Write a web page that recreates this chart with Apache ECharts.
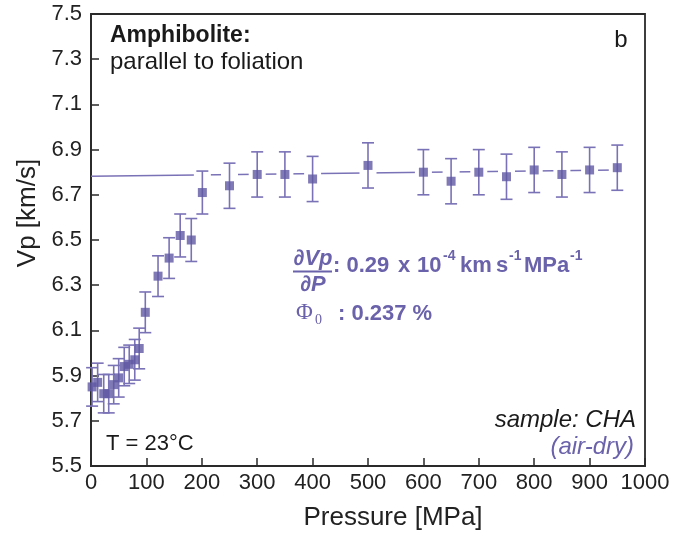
<!DOCTYPE html>
<html>
<head>
<meta charset="utf-8">
<script src="https://cdn.jsdelivr.net/npm/echarts@6/dist/echarts.min.js"></script>
<style>
  html, body { margin: 0; padding: 0; background: #fff; }
  #chart { width: 688px; height: 536px; }
</style>
</head>
<body>
<div id="chart"></div>
<script>
// ---- data ----
const pressure = [2, 12, 23, 32, 41, 50, 60, 69, 79, 87, 98, 121, 141, 161, 181, 201, 250, 300, 350, 400, 500, 600, 650, 700, 750, 800, 850, 900, 950];
const vp       = [5.85, 5.87, 5.82, 5.82, 5.86, 5.89, 5.94, 5.95, 5.97, 6.02, 6.18, 6.34, 6.42, 6.52, 6.50, 6.71, 6.74, 6.79, 6.79, 6.77, 6.83, 6.80, 6.76, 6.80, 6.78, 6.81, 6.79, 6.81, 6.82];
const vpErr    = [0.085, 0.085, 0.085, 0.085, 0.085, 0.085, 0.085, 0.085, 0.09, 0.09, 0.09, 0.09, 0.09, 0.095, 0.095, 0.095, 0.1, 0.1, 0.1, 0.1, 0.1, 0.1, 0.1, 0.1, 0.1, 0.1, 0.1, 0.1, 0.1];
const fitP     = [0, 950];
const fitVp    = [6.782, 6.810];
const xTicks   = [0, 100, 200, 300, 400, 500, 600, 700, 800, 900, 1000];
const yTicks   = [5.5, 5.7, 5.9, 6.1, 6.3, 6.5, 6.7, 6.9, 7.1, 7.3, 7.5];

const PURPLE = '#5f57a3';
const BAR = '#7a72b6';
const TEXTP = '#6a62aa';
const AXIS = '#2a2a2a';
const FONT = '"Liberation Sans", Arial, sans-serif';

const points = pressure.map((p, i) => [p, vp[i], vpErr[i]]);
const fitData = fitP.map((p, i) => [p, fitVp[i]]);

function fitAt(p) {
  return fitVp[0] + (fitVp[1] - fitVp[0]) * (p - fitP[0]) / (fitP[1] - fitP[0]);
}

const chart = echarts.init(document.getElementById('chart'), null, { renderer: 'canvas' });

const option = {
  animation: false,
  backgroundColor: '#fff',
  grid: { left: 91, right: 43, top: 14, bottom: 70, show: true, borderColor: AXIS, borderWidth: 1.8, backgroundColor: 'transparent' },
  xAxis: {
    type: 'value', min: 0, max: 1000, interval: 100,
    axisLine: { show: true, lineStyle: { color: AXIS, width: 1.8 } },
    axisTick: { show: true, inside: true, length: 8, lineStyle: { color: AXIS, width: 1.5 }, customValues: xTicks },
    axisLabel: { fontSize: 22, color: '#222', fontFamily: FONT, margin: 6, customValues: xTicks, formatter: v => String(Math.round(v)) },
    splitLine: { show: false }
  },
  yAxis: {
    type: 'value', min: 5.5, max: 7.5,
    axisLine: { show: true, lineStyle: { color: AXIS, width: 1.8 } },
    axisTick: { show: true, inside: true, length: 8, lineStyle: { color: AXIS, width: 1.5 }, customValues: yTicks },
    axisLabel: { fontSize: 22, color: '#222', fontFamily: FONT, margin: 9, customValues: yTicks, formatter: v => (+v).toFixed(1) },
    splitLine: { show: false }
  },
  series: [
    {
      type: 'line', data: fitData, symbol: 'none', z: 1,
      lineStyle: { color: BAR, width: 1.6 }
    },
    {
      // white halo to break the fit line around each error bar
      type: 'custom', data: points, z: 2,
      renderItem: function (params, api) {
        const x = api.value(0), y = api.value(1), e = api.value(2);
        const f = fitAt(x);
        if (f > y + e + 0.03 || f < y - e - 0.03) return null;
        const c = api.coord([x, y]);
        const hi = api.coord([x, y + e]);
        const lo = api.coord([x, y - e]);
        return { type: 'rect', shape: { x: c[0] - 8.5, y: hi[1] - 2, width: 17, height: lo[1] - hi[1] + 4 }, style: { fill: '#fff' } };
      }
    },
    {
      type: 'custom', data: points, z: 3,
      renderItem: function (params, api) {
        const x = api.value(0), y = api.value(1), e = api.value(2);
        const c = api.coord([x, y]);
        const hi = api.coord([x, y + e]);
        const lo = api.coord([x, y - e]);
        const hw = 6;
        const st = { stroke: BAR, lineWidth: 1.6 };
        return {
          type: 'group', children: [
            { type: 'line', shape: { x1: c[0], y1: hi[1], x2: c[0], y2: lo[1] }, style: st },
            { type: 'line', shape: { x1: c[0] - hw, y1: hi[1], x2: c[0] + hw, y2: hi[1] }, style: st },
            { type: 'line', shape: { x1: c[0] - hw, y1: lo[1], x2: c[0] + hw, y2: lo[1] }, style: st }
          ]
        };
      }
    },
    {
      type: 'scatter', data: points.map(p => [p[0], p[1]]), z: 4,
      symbol: 'rect', symbolSize: 9,
      itemStyle: { color: PURPLE }
    }
  ],
  graphic: [
    { type: 'text', x: 28, y: 213, rotation: Math.PI / 2,
      style: { text: 'Vp [km/s]', font: '26px ' + FONT, fill: '#222', align: 'center', verticalAlign: 'middle' } },
    { type: 'text', x: 393, y: 518,
      style: { text: 'Pressure [MPa]', font: '26px ' + FONT, fill: '#222', align: 'center', verticalAlign: 'middle' } },
    { type: 'text', x: 110, y: 36,
      style: { text: 'Amphibolite:', font: 'bold 23px ' + FONT, fill: '#1a1a1a', align: 'left', verticalAlign: 'middle' } },
    { type: 'text', x: 110, y: 62,
      style: { text: 'parallel to foliation', font: '24px ' + FONT, fill: '#1a1a1a', align: 'left', verticalAlign: 'middle' } },
    { type: 'text', x: 621, y: 40,
      style: { text: 'b', font: '24px ' + FONT, fill: '#1a1a1a', align: 'center', verticalAlign: 'middle' } },
    { type: 'text', x: 106, y: 444,
      style: { text: 'T = 23°C', font: '22px ' + FONT, fill: '#1a1a1a', align: 'left', verticalAlign: 'middle' } },
    { type: 'text', x: 636, y: 420,
      style: { text: 'sample: CHA', font: 'italic 24px ' + FONT, fill: '#1a1a1a', align: 'right', verticalAlign: 'middle' } },
    { type: 'text', x: 634, y: 447,
      style: { text: '(air-dry)', font: 'italic 24px ' + FONT, fill: TEXTP, align: 'right', verticalAlign: 'middle' } },
    // formula
    { type: 'text', x: 313, y: 259,
      style: { text: '∂Vp', font: 'italic bold 22px ' + FONT, fill: TEXTP, align: 'center', verticalAlign: 'middle' } },
    { type: 'line', shape: { x1: 293, y1: 271.5, x2: 332, y2: 271.5 }, style: { stroke: TEXTP, lineWidth: 2 } },
    { type: 'text', x: 313, y: 285,
      style: { text: '∂P', font: 'italic bold 22px ' + FONT, fill: TEXTP, align: 'center', verticalAlign: 'middle' } },
    { type: 'text', x: 333, y: 266,
      style: { text: ': 0.29', font: 'bold 22px ' + FONT, fill: TEXTP, align: 'left', verticalAlign: 'middle' } },
    { type: 'text', x: 398, y: 266,
      style: { text: 'x', font: 'bold 22px ' + FONT, fill: TEXTP, align: 'left', verticalAlign: 'middle' } },
    { type: 'text', x: 417, y: 266,
      style: { text: '10', font: 'bold 22px ' + FONT, fill: TEXTP, align: 'left', verticalAlign: 'middle' } },
    { type: 'text', x: 443, y: 256,
      style: { text: '-4', font: 'bold 14px ' + FONT, fill: TEXTP, align: 'left', verticalAlign: 'middle' } },
    { type: 'text', x: 460, y: 266,
      style: { text: 'km', font: 'bold 22px ' + FONT, fill: TEXTP, align: 'left', verticalAlign: 'middle' } },
    { type: 'text', x: 496, y: 266,
      style: { text: 's', font: 'bold 22px ' + FONT, fill: TEXTP, align: 'left', verticalAlign: 'middle' } },
    { type: 'text', x: 509, y: 256,
      style: { text: '-1', font: 'bold 14px ' + FONT, fill: TEXTP, align: 'left', verticalAlign: 'middle' } },
    { type: 'text', x: 524, y: 266,
      style: { text: 'MPa', font: 'bold 22px ' + FONT, fill: TEXTP, align: 'left', verticalAlign: 'middle' } },
    { type: 'text', x: 570, y: 256,
      style: { text: '-1', font: 'bold 14px ' + FONT, fill: TEXTP, align: 'left', verticalAlign: 'middle' } },
    { type: 'text', x: 296, y: 313,
      style: { text: 'Φ', font: '23px "Liberation Serif", "DejaVu Serif", serif', fill: TEXTP, align: 'left', verticalAlign: 'middle' } },
    { type: 'text', x: 315, y: 320,
      style: { text: '0', font: '14px "Liberation Serif", "DejaVu Serif", serif', fill: TEXTP, align: 'left', verticalAlign: 'middle' } },
    { type: 'text', x: 338, y: 314,
      style: { text: ': 0.237 %', font: 'bold 22px ' + FONT, fill: TEXTP, align: 'left', verticalAlign: 'middle' } }
  ]
};

chart.setOption(option);
</script>
</body>
</html>
